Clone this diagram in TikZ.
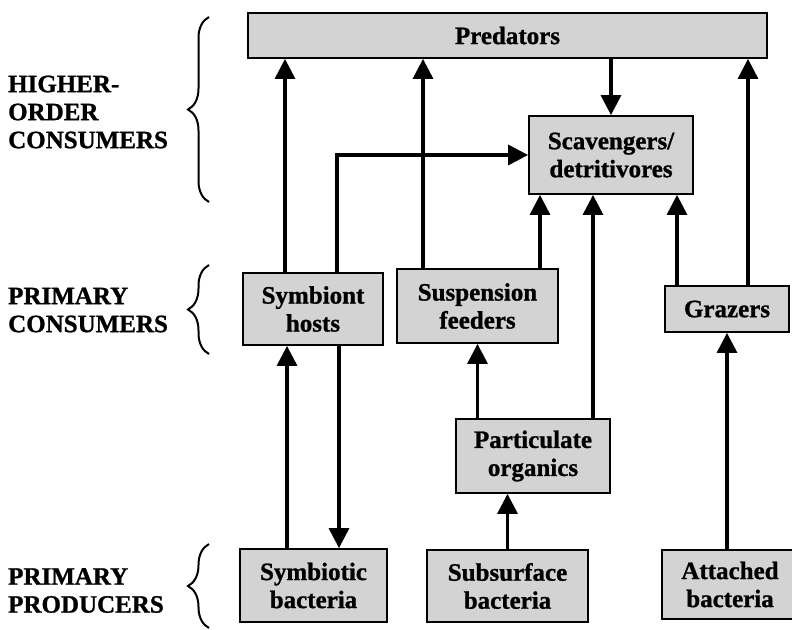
\documentclass[tikz,border=0pt]{standalone}
\usepackage{fontspec}
\setmainfont{Liberation Serif}[BoldFeatures={FakeBold=1}]
\usetikzlibrary{arrows.meta, decorations.pathreplacing}
\definecolor{boxgray}{RGB}{211,211,211}
\tikzset{
  box/.style={draw, fill=boxgray, line width=1.8pt, align=center, inner sep=0pt,
    font=\bfseries\fontsize{25}{28}\selectfont},
  flow/.style={line width=3.2pt, -{Triangle[width=20pt,length=20pt]}},
  lvl/.style={anchor=west, align=left, inner sep=0pt,
    font=\bfseries\fontsize{25}{28}\selectfont},
  brc/.style={decorate, decoration={brace, amplitude=21pt}, line width=2pt}
}

\begin{document}
\begin{tikzpicture}[x=1pt, y=-1pt]

    \useasboundingbox (0,0) rectangle (792,629);

    % trophic levels
    \node[lvl] (higher) at (8,112) {HIGHER-\\ORDER\\CONSUMERS};
    \node[lvl] (primcons) at (8,310) {PRIMARY\\CONSUMERS};
    \node[lvl] (primprod) at (8,590.5) {PRIMARY\\PRODUCERS};
    \draw[brc] (209,202) -- (209,17);
    \draw[brc] (209,354) -- (209,265);
    \draw[brc] (209,628) -- (209,544);

    % boxes
    \node[box, minimum width=519pt, minimum height=45pt] (pred) at (507.5,35.5) {Predators};
    \node[box, minimum width=164pt, minimum height=78pt] (scav) at (611,155) {Scavengers/\\detritivores};
    \node[box, minimum width=140pt, minimum height=72pt] (hosts) at (313,309) {Symbiont\\hosts};
    \node[box, minimum width=161pt, minimum height=74pt] (susp) at (477.5,306) {Suspension\\feeders};
    \node[box, minimum width=124pt, minimum height=46pt] (graz) at (727,309) {Grazers};
    \node[box, minimum width=154pt, minimum height=74pt] (part) at (533,456) {Particulate\\organics};
    \node[box, minimum width=147pt, minimum height=73pt] (symb) at (313.5,585.5) {Symbiotic\\bacteria};
    \node[box, minimum width=161pt, minimum height=72pt] (subs) at (507.5,586) {Subsurface\\bacteria};
    \node[box, minimum width=136pt, minimum height=69pt] (att) at (730,584.5) {Attached\\bacteria};

    % columns of the connectors
    \coordinate (c1) at (285,0);
    \coordinate (c2) at (337,0);
    \coordinate (c3) at (423,0);
    \coordinate (c4) at (540,0);
    \coordinate (c5) at (593,0);
    \coordinate (c6) at (677,0);
    \coordinate (c7) at (748,0);
    \coordinate (c8) at (287,0);
    \coordinate (c9) at (339,0);

    \draw[flow] (hosts.north -| c1) -- (pred.south -| c1);
    \draw[flow] (hosts.north -| c2) |- (scav.west);
    \draw[flow] (susp.north -| c3) -- (pred.south -| c3);
    \draw[flow] (susp.north -| c4) -- (scav.south -| c4);
    \draw[flow] (part.north -| c5) -- (scav.south -| c5);
    \draw[flow] (graz.north -| c6) -- (scav.south -| c6);
    \draw[flow] (graz.north -| c7) -- (pred.south -| c7);
    \draw[flow] (pred.south -| scav) -- (scav.north);

    \draw[flow] (symb.north -| c8) -- (hosts.south -| c8);
    \draw[flow] (hosts.south -| c9) -- (symb.north -| c9);
    \draw[flow] (part.north -| susp) -- (susp.south);
    \draw[flow] (subs.north) -- (part.south -| subs);
    \draw[flow] (att.north -| graz) -- (graz.south);

\end{tikzpicture}
\end{document}
